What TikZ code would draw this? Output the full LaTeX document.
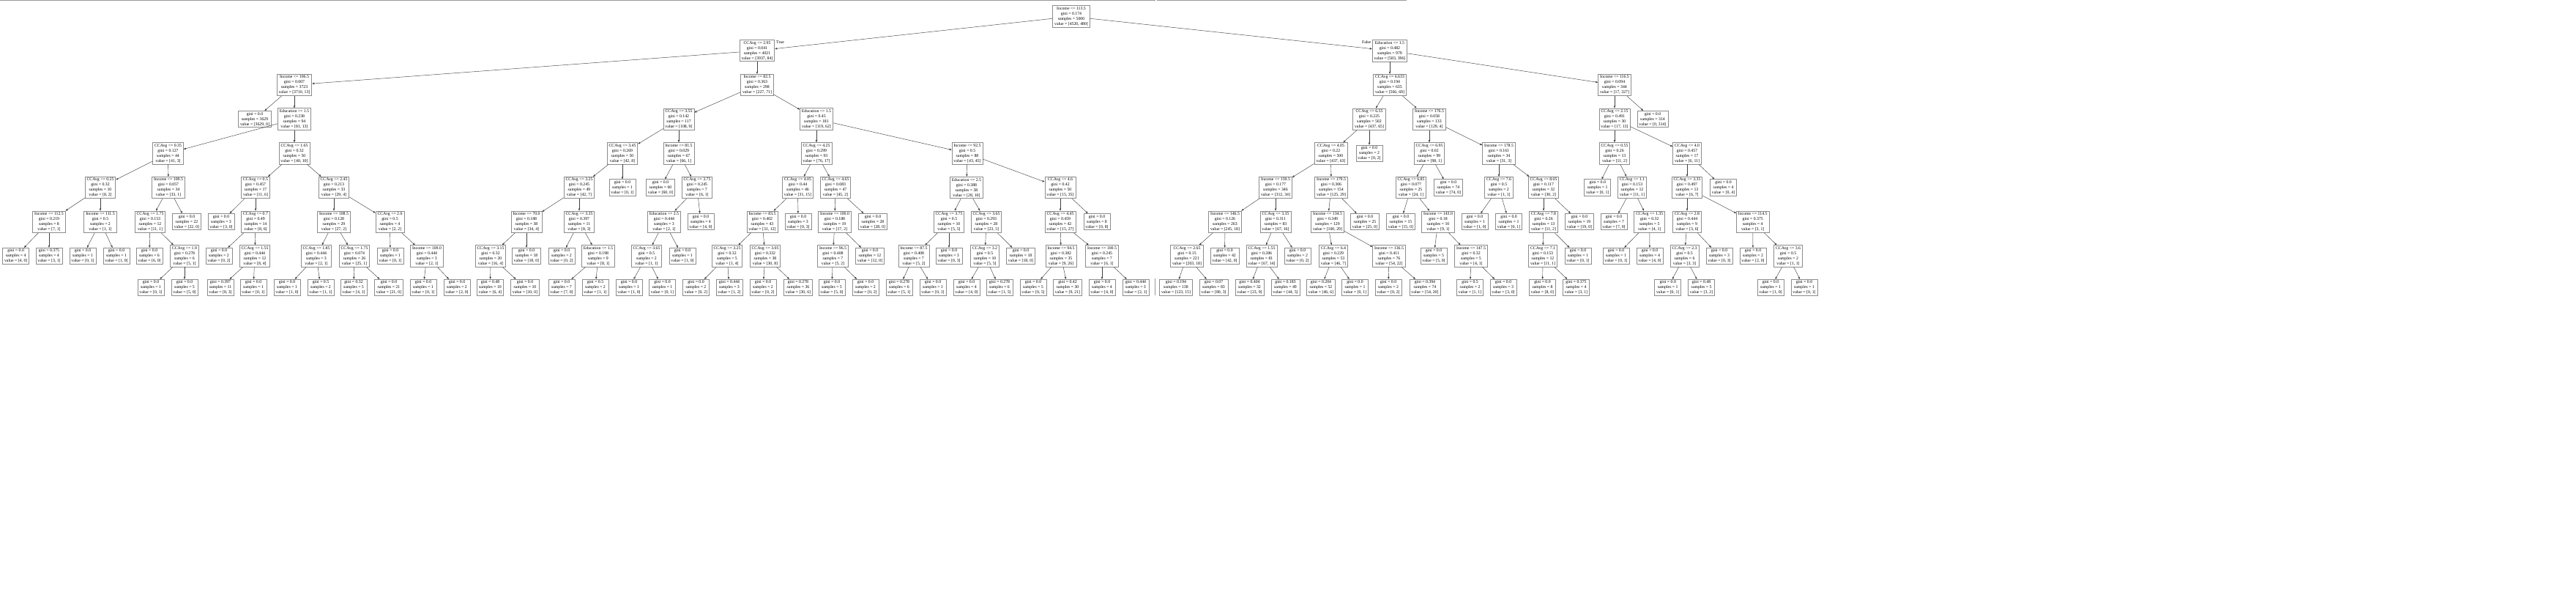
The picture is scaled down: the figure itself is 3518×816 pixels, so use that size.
\documentclass[tikz,border=0pt]{standalone}
\usepackage{fontspec}
\setmainfont{Liberation Serif}
\usetikzlibrary{arrows.meta}

\begin{document}
\begin{tikzpicture}[x=1pt, y=-1pt,
  box/.style={draw=black!45, line width=0.8pt, align=center, inner xsep=2.4pt, inner ysep=1.8pt, font=\fontsize{5.8}{7}\selectfont},
  edge/.style={-{Triangle[length=3pt,width=2.4pt]}, draw=black!75, line width=0.45pt},
  tag/.style={inner sep=0pt, font=\fontsize{5.8}{7}\selectfont},
  seam/.style={draw=black!40, line width=1.3pt}]
\useasboundingbox (0, 0) rectangle (3518, 816);

\draw[seam] (0, 0.65) -- (1578, 0.65);
\draw[seam] (1580, 0.65) -- (1921, 0.65);
\draw[draw=black!40, line width=0.6pt] (1577, 380) -- (1577, 403);

% level 0
\node[box] (n0) at (1463, 22.5) {Income <= 113.5\\gini = 0.174\\samples = 5000\\value = [4520, 480]};
% level 1
\node[box] (n1) at (1034, 69.2) {CCAvg <= 2.95\\gini = 0.041\\samples = 4021\\value = [3937, 84]};
\node[box] (n2) at (1898, 69.2) {Education <= 1.5\\gini = 0.482\\samples = 979\\value = [583, 396]};
% level 2
\node[box] (n3) at (402, 115.9) {Income <= 106.5\\gini = 0.007\\samples = 3723\\value = [3710, 13]};
\node[box] (n4) at (1034, 115.9) {Income <= 82.5\\gini = 0.363\\samples = 298\\value = [227, 71]};
\node[box] (n5) at (1898, 115.9) {CCAvg <= 6.633\\gini = 0.194\\samples = 635\\value = [566, 69]};
\node[box] (n6) at (2205, 115.9) {Income <= 116.5\\gini = 0.094\\samples = 344\\value = [17, 327]};
% level 3
\node[box] (n7) at (348, 162.6) {gini = 0.0\\samples = 3629\\value = [3629, 0]};
\node[box] (n8) at (402, 162.6) {Education <= 1.5\\gini = 0.238\\samples = 94\\value = [81, 13]};
\node[box] (n9) at (927, 162.6) {CCAvg <= 3.55\\gini = 0.142\\samples = 117\\value = [108, 9]};
\node[box] (n10) at (1115, 162.6) {Education <= 1.5\\gini = 0.45\\samples = 181\\value = [119, 62]};
\node[box] (n11) at (1870, 162.6) {CCAvg <= 6.55\\gini = 0.225\\samples = 502\\value = [437, 65]};
\node[box] (n12) at (1952, 162.6) {Income <= 176.5\\gini = 0.058\\samples = 133\\value = [129, 4]};
\node[box] (n13) at (2205, 162.6) {CCAvg <= 2.15\\gini = 0.491\\samples = 30\\value = [17, 13]};
\node[box] (n14) at (2257, 162.6) {gini = 0.0\\samples = 314\\value = [0, 314]};
% level 4
\node[box] (n15) at (229.5, 209.3) {CCAvg <= 0.35\\gini = 0.127\\samples = 44\\value = [41, 3]};
\node[box] (n16) at (402, 209.3) {CCAvg <= 1.65\\gini = 0.32\\samples = 50\\value = [40, 10]};
\node[box] (n17) at (850, 209.3) {CCAvg <= 3.45\\gini = 0.269\\samples = 50\\value = [42, 8]};
\node[box] (n18) at (927, 209.3) {Income <= 81.5\\gini = 0.029\\samples = 67\\value = [66, 1]};
\node[box] (n19) at (1115, 209.3) {CCAvg <= 4.25\\gini = 0.299\\samples = 93\\value = [76, 17]};
\node[box] (n20) at (1321, 209.3) {Income <= 92.5\\gini = 0.5\\samples = 88\\value = [43, 45]};
\node[box] (n21) at (1817.5, 209.3) {CCAvg <= 4.05\\gini = 0.22\\samples = 500\\value = [437, 63]};
\node[box] (n22) at (1870, 209.3) {gini = 0.0\\samples = 2\\value = [0, 2]};
\node[box] (n23) at (1952, 209.3) {CCAvg <= 6.95\\gini = 0.02\\samples = 99\\value = [98, 1]};
\node[box] (n24) at (2047, 209.3) {Income <= 178.5\\gini = 0.161\\samples = 34\\value = [31, 3]};
\node[box] (n25) at (2205, 209.3) {CCAvg <= 0.55\\gini = 0.26\\samples = 13\\value = [11, 2]};
\node[box] (n26) at (2304, 209.3) {CCAvg <= 4.0\\gini = 0.457\\samples = 17\\value = [6, 11]};
% level 5
\node[box] (n27) at (137, 256) {CCAvg <= 0.25\\gini = 0.32\\samples = 10\\value = [8, 2]};
\node[box] (n28) at (230, 256) {Income <= 109.5\\gini = 0.057\\samples = 34\\value = [33, 1]};
\node[box] (n29) at (349, 256) {CCAvg <= 0.5\\gini = 0.457\\samples = 17\\value = [11, 6]};
\node[box] (n30) at (456, 256) {CCAvg <= 2.45\\gini = 0.213\\samples = 33\\value = [29, 4]};
\node[box] (n31) at (791, 256) {CCAvg <= 3.25\\gini = 0.245\\samples = 49\\value = [42, 7]};
\node[box] (n32) at (850, 256) {gini = 0.0\\samples = 1\\value = [0, 1]};
\node[box] (n33) at (902, 256) {gini = 0.0\\samples = 60\\value = [60, 0]};
\node[box] (n34) at (952, 256) {CCAvg <= 3.75\\gini = 0.245\\samples = 7\\value = [6, 1]};
\node[box] (n35) at (1089.5, 256) {CCAvg <= 4.05\\gini = 0.44\\samples = 46\\value = [31, 15]};
\node[box] (n36) at (1141, 256) {CCAvg <= 4.65\\gini = 0.083\\samples = 47\\value = [45, 2]};
\node[box] (n37) at (1320, 256) {Education <= 2.5\\gini = 0.388\\samples = 38\\value = [28, 10]};
\node[box] (n38) at (1448, 256) {CCAvg <= 4.6\\gini = 0.42\\samples = 50\\value = [15, 35]};
\node[box] (n39) at (1742, 256) {Income <= 159.5\\gini = 0.177\\samples = 346\\value = [312, 34]};
\node[box] (n40) at (1818, 256) {Income <= 179.5\\gini = 0.306\\samples = 154\\value = [125, 29]};
\node[box] (n41) at (1927, 256) {CCAvg <= 6.85\\gini = 0.077\\samples = 25\\value = [24, 1]};
\node[box] (n42) at (1978, 256) {gini = 0.0\\samples = 74\\value = [74, 0]};
\node[box] (n43) at (2047, 256) {CCAvg <= 7.6\\gini = 0.5\\samples = 2\\value = [1, 1]};
\node[box] (n44) at (2108, 256) {CCAvg <= 8.05\\gini = 0.117\\samples = 32\\value = [30, 2]};
\node[box] (n45) at (2181.7, 256) {gini = 0.0\\samples = 1\\value = [0, 1]};
\node[box] (n46) at (2229, 256) {CCAvg <= 1.1\\gini = 0.153\\samples = 12\\value = [11, 1]};
\node[box] (n47) at (2304, 256) {CCAvg <= 3.35\\gini = 0.497\\samples = 13\\value = [6, 7]};
\node[box] (n48) at (2353.6, 256) {gini = 0.0\\samples = 4\\value = [0, 4]};
% level 6
\node[box] (n49) at (67, 302.7) {Income <= 112.5\\gini = 0.219\\samples = 8\\value = [7, 1]};
\node[box] (n50) at (137, 302.7) {Income <= 111.5\\gini = 0.5\\samples = 2\\value = [1, 1]};
\node[box] (n51) at (205, 302.7) {CCAvg <= 1.75\\gini = 0.153\\samples = 12\\value = [11, 1]};
\node[box] (n52) at (255, 302.7) {gini = 0.0\\samples = 22\\value = [22, 0]};
\node[box] (n53) at (302, 302.7) {gini = 0.0\\samples = 3\\value = [3, 0]};
\node[box] (n54) at (349, 302.7) {CCAvg <= 0.7\\gini = 0.49\\samples = 14\\value = [8, 6]};
\node[box] (n55) at (456, 302.7) {Income <= 108.5\\gini = 0.128\\samples = 29\\value = [27, 2]};
\node[box] (n56) at (532.5, 302.7) {CCAvg <= 2.6\\gini = 0.5\\samples = 4\\value = [2, 2]};
\node[box] (n57) at (719, 302.7) {Income <= 70.0\\gini = 0.188\\samples = 38\\value = [34, 4]};
\node[box] (n58) at (791, 302.7) {CCAvg <= 3.35\\gini = 0.397\\samples = 11\\value = [8, 3]};
\node[box] (n59) at (907, 302.7) {Education <= 2.5\\gini = 0.444\\samples = 3\\value = [2, 1]};
\node[box] (n60) at (957, 302.7) {gini = 0.0\\samples = 4\\value = [4, 0]};
\node[box] (n61) at (1041, 302.7) {Income <= 83.5\\gini = 0.402\\samples = 43\\value = [31, 12]};
\node[box] (n62) at (1090, 302.7) {gini = 0.0\\samples = 3\\value = [0, 3]};
\node[box] (n63) at (1140, 302.7) {Income <= 100.0\\gini = 0.188\\samples = 19\\value = [17, 2]};
\node[box] (n64) at (1192, 302.7) {gini = 0.0\\samples = 28\\value = [28, 0]};
\node[box] (n65) at (1296, 302.7) {CCAvg <= 3.75\\gini = 0.5\\samples = 10\\value = [5, 5]};
\node[box] (n66) at (1347, 302.7) {CCAvg <= 3.65\\gini = 0.293\\samples = 28\\value = [23, 5]};
\node[box] (n67) at (1448, 302.7) {CCAvg <= 4.45\\gini = 0.459\\samples = 42\\value = [15, 27]};
\node[box] (n68) at (1498, 302.7) {gini = 0.0\\samples = 8\\value = [0, 8]};
\node[box] (n69) at (1673, 302.7) {Income <= 146.5\\gini = 0.126\\samples = 263\\value = [245, 18]};
\node[box] (n70) at (1742, 302.7) {CCAvg <= 3.35\\gini = 0.311\\samples = 83\\value = [67, 16]};
\node[box] (n71) at (1813, 302.7) {Income <= 134.5\\gini = 0.349\\samples = 129\\value = [100, 29]};
\node[box] (n72) at (1864, 302.7) {gini = 0.0\\samples = 25\\value = [25, 0]};
\node[box] (n73) at (1913, 302.7) {gini = 0.0\\samples = 15\\value = [15, 0]};
\node[box] (n74) at (1964, 302.7) {Income <= 143.0\\gini = 0.18\\samples = 10\\value = [9, 1]};
\node[box] (n75) at (2014, 302.7) {gini = 0.0\\samples = 1\\value = [1, 0]};
\node[box] (n76) at (2060.6, 302.7) {gini = 0.0\\samples = 1\\value = [0, 1]};
\node[box] (n77) at (2108, 302.7) {CCAvg <= 7.8\\gini = 0.26\\samples = 13\\value = [11, 2]};
\node[box] (n78) at (2157, 302.7) {gini = 0.0\\samples = 19\\value = [19, 0]};
\node[box] (n79) at (2204, 302.7) {gini = 0.0\\samples = 7\\value = [7, 0]};
\node[box] (n80) at (2252.7, 302.7) {CCAvg <= 1.35\\gini = 0.32\\samples = 5\\value = [4, 1]};
\node[box] (n81) at (2304, 302.7) {CCAvg <= 2.8\\gini = 0.444\\samples = 9\\value = [3, 6]};
\node[box] (n82) at (2393.7, 302.7) {Income <= 114.5\\gini = 0.375\\samples = 4\\value = [3, 1]};
% level 7
\node[box] (n83) at (21.7, 349.4) {gini = 0.0\\samples = 4\\value = [4, 0]};
\node[box] (n84) at (67, 349.4) {gini = 0.375\\samples = 4\\value = [3, 1]};
\node[box] (n85) at (113, 349.4) {gini = 0.0\\samples = 1\\value = [0, 1]};
\node[box] (n86) at (159, 349.4) {gini = 0.0\\samples = 1\\value = [1, 0]};
\node[box] (n87) at (204, 349.4) {gini = 0.0\\samples = 6\\value = [6, 0]};
\node[box] (n88) at (252, 349.4) {CCAvg <= 1.9\\gini = 0.278\\samples = 6\\value = [5, 1]};
\node[box] (n89) at (299, 349.4) {gini = 0.0\\samples = 2\\value = [0, 2]};
\node[box] (n90) at (348, 349.4) {CCAvg <= 1.55\\gini = 0.444\\samples = 12\\value = [8, 4]};
\node[box] (n91) at (432, 349.4) {CCAvg <= 1.85\\gini = 0.444\\samples = 3\\value = [2, 1]};
\node[box] (n92) at (484, 349.4) {CCAvg <= 1.75\\gini = 0.074\\samples = 26\\value = [25, 1]};
\node[box] (n93) at (533, 349.4) {gini = 0.0\\samples = 1\\value = [0, 1]};
\node[box] (n94) at (583, 349.4) {Income <= 109.0\\gini = 0.444\\samples = 3\\value = [2, 1]};
\node[box] (n95) at (670, 349.4) {CCAvg <= 3.15\\gini = 0.32\\samples = 20\\value = [16, 4]};
\node[box] (n96) at (719, 349.4) {gini = 0.0\\samples = 18\\value = [18, 0]};
\node[box] (n97) at (767, 349.4) {gini = 0.0\\samples = 2\\value = [0, 2]};
\node[box] (n98) at (817, 349.4) {Education <= 1.5\\gini = 0.198\\samples = 9\\value = [8, 1]};
\node[box] (n99) at (883, 349.4) {CCAvg <= 3.65\\gini = 0.5\\samples = 2\\value = [1, 1]};
\node[box] (n100) at (932, 349.4) {gini = 0.0\\samples = 1\\value = [1, 0]};
\node[box] (n101) at (993, 349.4) {CCAvg <= 3.25\\gini = 0.32\\samples = 5\\value = [1, 4]};
\node[box] (n102) at (1045, 349.4) {CCAvg <= 3.05\\gini = 0.332\\samples = 38\\value = [30, 8]};
\node[box] (n103) at (1137.5, 349.4) {Income <= 96.5\\gini = 0.408\\samples = 7\\value = [5, 2]};
\node[box] (n104) at (1188, 349.4) {gini = 0.0\\samples = 12\\value = [12, 0]};
\node[box] (n105) at (1248, 349.4) {Income <= 87.5\\gini = 0.408\\samples = 7\\value = [5, 2]};
\node[box] (n106) at (1296, 349.4) {gini = 0.0\\samples = 3\\value = [0, 3]};
\node[box] (n107) at (1345, 349.4) {CCAvg <= 3.2\\gini = 0.5\\samples = 10\\value = [5, 5]};
\node[box] (n108) at (1394, 349.4) {gini = 0.0\\samples = 18\\value = [18, 0]};
\node[box] (n109) at (1449, 349.4) {Income <= 94.5\\gini = 0.382\\samples = 35\\value = [9, 26]};
\node[box] (n110) at (1505, 349.4) {Income <= 100.5\\gini = 0.245\\samples = 7\\value = [6, 1]};
\node[box] (n111) at (1621, 349.4) {CCAvg <= 2.65\\gini = 0.15\\samples = 221\\value = [203, 18]};
\node[box] (n112) at (1672.5, 349.4) {gini = 0.0\\samples = 42\\value = [42, 0]};
\node[box] (n113) at (1723, 349.4) {CCAvg <= 1.55\\gini = 0.286\\samples = 81\\value = [67, 14]};
\node[box] (n114) at (1772, 349.4) {gini = 0.0\\samples = 2\\value = [0, 2]};
\node[box] (n115) at (1821, 349.4) {CCAvg <= 6.4\\gini = 0.229\\samples = 53\\value = [46, 7]};
\node[box] (n116) at (1897, 349.4) {Income <= 136.5\\gini = 0.411\\samples = 76\\value = [54, 22]};
\node[box] (n117) at (1958, 349.4) {gini = 0.0\\samples = 5\\value = [5, 0]};
\node[box] (n118) at (2009, 349.4) {Income <= 147.5\\gini = 0.32\\samples = 5\\value = [4, 1]};
\node[box] (n119) at (2107, 349.4) {CCAvg <= 7.1\\gini = 0.153\\samples = 12\\value = [11, 1]};
\node[box] (n120) at (2155, 349.4) {gini = 0.0\\samples = 1\\value = [0, 1]};
\node[box] (n121) at (2207, 349.4) {gini = 0.0\\samples = 1\\value = [0, 1]};
\node[box] (n122) at (2253, 349.4) {gini = 0.0\\samples = 4\\value = [4, 0]};
\node[box] (n123) at (2300.5, 349.4) {CCAvg <= 2.3\\gini = 0.5\\samples = 6\\value = [3, 3]};
\node[box] (n124) at (2348, 349.4) {gini = 0.0\\samples = 3\\value = [0, 3]};
\node[box] (n125) at (2394, 349.4) {gini = 0.0\\samples = 2\\value = [2, 0]};
\node[box] (n126) at (2442, 349.4) {CCAvg <= 3.6\\gini = 0.5\\samples = 2\\value = [1, 1]};
% level 8
\node[box] (n127) at (206, 392.5) {gini = 0.0\\samples = 1\\value = [0, 1]};
\node[box] (n128) at (252, 392.5) {gini = 0.0\\samples = 5\\value = [5, 0]};
\node[box] (n129) at (301, 392.5) {gini = 0.397\\samples = 11\\value = [8, 3]};
\node[box] (n130) at (346, 392.5) {gini = 0.0\\samples = 1\\value = [0, 1]};
\node[box] (n131) at (392, 392.5) {gini = 0.0\\samples = 1\\value = [1, 0]};
\node[box] (n132) at (438, 392.5) {gini = 0.5\\samples = 2\\value = [1, 1]};
\node[box] (n133) at (483, 392.5) {gini = 0.32\\samples = 5\\value = [4, 1]};
\node[box] (n134) at (531, 392.5) {gini = 0.0\\samples = 21\\value = [21, 0]};
\node[box] (n135) at (578, 392.5) {gini = 0.0\\samples = 1\\value = [0, 1]};
\node[box] (n136) at (624, 392.5) {gini = 0.0\\samples = 2\\value = [2, 0]};
\node[box] (n137) at (669.5, 392.5) {gini = 0.48\\samples = 10\\value = [6, 4]};
\node[box] (n138) at (717, 392.5) {gini = 0.0\\samples = 10\\value = [10, 0]};
\node[box] (n139) at (767, 392.5) {gini = 0.0\\samples = 7\\value = [7, 0]};
\node[box] (n140) at (813, 392.5) {gini = 0.5\\samples = 2\\value = [1, 1]};
\node[box] (n141) at (859, 392.5) {gini = 0.0\\samples = 1\\value = [1, 0]};
\node[box] (n142) at (904.5, 392.5) {gini = 0.0\\samples = 1\\value = [0, 1]};
\node[box] (n143) at (950.5, 392.5) {gini = 0.0\\samples = 2\\value = [0, 2]};
\node[box] (n144) at (996, 392.5) {gini = 0.444\\samples = 3\\value = [1, 2]};
\node[box] (n145) at (1042, 392.5) {gini = 0.0\\samples = 2\\value = [0, 2]};
\node[box] (n146) at (1090, 392.5) {gini = 0.278\\samples = 36\\value = [30, 6]};
\node[box] (n147) at (1136, 392.5) {gini = 0.0\\samples = 5\\value = [5, 0]};
\node[box] (n148) at (1182, 392.5) {gini = 0.0\\samples = 2\\value = [0, 2]};
\node[box] (n149) at (1228, 392.5) {gini = 0.278\\samples = 6\\value = [5, 1]};
\node[box] (n150) at (1274, 392.5) {gini = 0.0\\samples = 1\\value = [0, 1]};
\node[box] (n151) at (1320, 392.5) {gini = 0.0\\samples = 4\\value = [4, 0]};
\node[box] (n152) at (1365, 392.5) {gini = 0.278\\samples = 6\\value = [1, 5]};
\node[box] (n153) at (1411, 392.5) {gini = 0.0\\samples = 5\\value = [0, 5]};
\node[box] (n154) at (1458, 392.5) {gini = 0.42\\samples = 30\\value = [9, 21]};
\node[box] (n155) at (1505, 392.5) {gini = 0.0\\samples = 4\\value = [4, 0]};
\node[box] (n156) at (1551, 392.5) {gini = 0.444\\samples = 3\\value = [2, 1]};
\node[box] (n157) at (1606, 392.5) {gini = 0.194\\samples = 138\\value = [123, 15]};
\node[box] (n158) at (1657.5, 392.5) {gini = 0.07\\samples = 83\\value = [80, 3]};
\node[box] (n159) at (1706.5, 392.5) {gini = 0.404\\samples = 32\\value = [23, 9]};
\node[box] (n160) at (1755.5, 392.5) {gini = 0.183\\samples = 49\\value = [44, 5]};
\node[box] (n161) at (1804, 392.5) {gini = 0.204\\samples = 52\\value = [46, 6]};
\node[box] (n162) at (1850.5, 392.5) {gini = 0.0\\samples = 1\\value = [0, 1]};
\node[box] (n163) at (1896, 392.5) {gini = 0.0\\samples = 2\\value = [0, 2]};
\node[box] (n164) at (1946, 392.5) {gini = 0.394\\samples = 74\\value = [54, 20]};
\node[box] (n165) at (2007.6, 392.5) {gini = 0.5\\samples = 2\\value = [1, 1]};
\node[box] (n166) at (2053, 392.5) {gini = 0.0\\samples = 3\\value = [3, 0]};
\node[box] (n167) at (2106.5, 392.5) {gini = 0.0\\samples = 8\\value = [8, 0]};
\node[box] (n168) at (2152.5, 392.5) {gini = 0.375\\samples = 4\\value = [3, 1]};
\node[box] (n169) at (2277.7, 392.5) {gini = 0.0\\samples = 1\\value = [0, 1]};
\node[box] (n170) at (2323.6, 392.5) {gini = 0.48\\samples = 5\\value = [3, 2]};
\node[box] (n171) at (2418, 392.5) {gini = 0.0\\samples = 1\\value = [1, 0]};
\node[box] (n172) at (2464, 392.5) {gini = 0.0\\samples = 1\\value = [0, 1]};

\node[tag, anchor=west] (ltrue) at (1060, 57.5) {True};
\node[tag, anchor=east] (lfalse) at (1872.5, 57.5) {False};

\draw[edge] (n0) -- (n1);
\draw[edge] (n0) -- (n2);
\draw[edge] (n1) -- (n3);
\draw[edge] (n1) -- (n4);
\draw[edge] (n2) -- (n5);
\draw[edge] (n2) -- (n6);
\draw[edge] (n3) -- (n7);
\draw[edge] (n3) -- (n8);
\draw[edge] (n4) -- (n9);
\draw[edge] (n4) -- (n10);
\draw[edge] (n5) -- (n11);
\draw[edge] (n5) -- (n12);
\draw[edge] (n6) -- (n13);
\draw[edge] (n6) -- (n14);
\draw[edge] (n8) -- (n15);
\draw[edge] (n8) -- (n16);
\draw[edge] (n9) -- (n17);
\draw[edge] (n9) -- (n18);
\draw[edge] (n10) -- (n19);
\draw[edge] (n10) -- (n20);
\draw[edge] (n11) -- (n21);
\draw[edge] (n11) -- (n22);
\draw[edge] (n12) -- (n23);
\draw[edge] (n12) -- (n24);
\draw[edge] (n13) -- (n25);
\draw[edge] (n13) -- (n26);
\draw[edge] (n15) -- (n27);
\draw[edge] (n15) -- (n28);
\draw[edge] (n16) -- (n29);
\draw[edge] (n16) -- (n30);
\draw[edge] (n17) -- (n31);
\draw[edge] (n17) -- (n32);
\draw[edge] (n18) -- (n33);
\draw[edge] (n18) -- (n34);
\draw[edge] (n19) -- (n35);
\draw[edge] (n19) -- (n36);
\draw[edge] (n20) -- (n37);
\draw[edge] (n20) -- (n38);
\draw[edge] (n21) -- (n39);
\draw[edge] (n21) -- (n40);
\draw[edge] (n23) -- (n41);
\draw[edge] (n23) -- (n42);
\draw[edge] (n24) -- (n43);
\draw[edge] (n24) -- (n44);
\draw[edge] (n25) -- (n45);
\draw[edge] (n25) -- (n46);
\draw[edge] (n26) -- (n47);
\draw[edge] (n26) -- (n48);
\draw[edge] (n27) -- (n49);
\draw[edge] (n27) -- (n50);
\draw[edge] (n28) -- (n51);
\draw[edge] (n28) -- (n52);
\draw[edge] (n29) -- (n53);
\draw[edge] (n29) -- (n54);
\draw[edge] (n30) -- (n55);
\draw[edge] (n30) -- (n56);
\draw[edge] (n31) -- (n57);
\draw[edge] (n31) -- (n58);
\draw[edge] (n34) -- (n59);
\draw[edge] (n34) -- (n60);
\draw[edge] (n35) -- (n61);
\draw[edge] (n35) -- (n62);
\draw[edge] (n36) -- (n63);
\draw[edge] (n36) -- (n64);
\draw[edge] (n37) -- (n65);
\draw[edge] (n37) -- (n66);
\draw[edge] (n38) -- (n67);
\draw[edge] (n38) -- (n68);
\draw[edge] (n39) -- (n69);
\draw[edge] (n39) -- (n70);
\draw[edge] (n40) -- (n71);
\draw[edge] (n40) -- (n72);
\draw[edge] (n41) -- (n73);
\draw[edge] (n41) -- (n74);
\draw[edge] (n43) -- (n75);
\draw[edge] (n43) -- (n76);
\draw[edge] (n44) -- (n77);
\draw[edge] (n44) -- (n78);
\draw[edge] (n46) -- (n79);
\draw[edge] (n46) -- (n80);
\draw[edge] (n47) -- (n81);
\draw[edge] (n47) -- (n82);
\draw[edge] (n49) -- (n83);
\draw[edge] (n49) -- (n84);
\draw[edge] (n50) -- (n85);
\draw[edge] (n50) -- (n86);
\draw[edge] (n51) -- (n87);
\draw[edge] (n51) -- (n88);
\draw[edge] (n54) -- (n89);
\draw[edge] (n54) -- (n90);
\draw[edge] (n55) -- (n91);
\draw[edge] (n55) -- (n92);
\draw[edge] (n56) -- (n93);
\draw[edge] (n56) -- (n94);
\draw[edge] (n57) -- (n95);
\draw[edge] (n57) -- (n96);
\draw[edge] (n58) -- (n97);
\draw[edge] (n58) -- (n98);
\draw[edge] (n59) -- (n99);
\draw[edge] (n59) -- (n100);
\draw[edge] (n61) -- (n101);
\draw[edge] (n61) -- (n102);
\draw[edge] (n63) -- (n103);
\draw[edge] (n63) -- (n104);
\draw[edge] (n65) -- (n105);
\draw[edge] (n65) -- (n106);
\draw[edge] (n66) -- (n107);
\draw[edge] (n66) -- (n108);
\draw[edge] (n67) -- (n109);
\draw[edge] (n67) -- (n110);
\draw[edge] (n69) -- (n111);
\draw[edge] (n69) -- (n112);
\draw[edge] (n70) -- (n113);
\draw[edge] (n70) -- (n114);
\draw[edge] (n71) -- (n115);
\draw[edge] (n71) -- (n116);
\draw[edge] (n74) -- (n117);
\draw[edge] (n74) -- (n118);
\draw[edge] (n77) -- (n119);
\draw[edge] (n77) -- (n120);
\draw[edge] (n80) -- (n121);
\draw[edge] (n80) -- (n122);
\draw[edge] (n81) -- (n123);
\draw[edge] (n81) -- (n124);
\draw[edge] (n82) -- (n125);
\draw[edge] (n82) -- (n126);
\draw[edge] (n88) -- (n127);
\draw[edge] (n88) -- (n128);
\draw[edge] (n90) -- (n129);
\draw[edge] (n90) -- (n130);
\draw[edge] (n91) -- (n131);
\draw[edge] (n91) -- (n132);
\draw[edge] (n92) -- (n133);
\draw[edge] (n92) -- (n134);
\draw[edge] (n94) -- (n135);
\draw[edge] (n94) -- (n136);
\draw[edge] (n95) -- (n137);
\draw[edge] (n95) -- (n138);
\draw[edge] (n98) -- (n139);
\draw[edge] (n98) -- (n140);
\draw[edge] (n99) -- (n141);
\draw[edge] (n99) -- (n142);
\draw[edge] (n101) -- (n143);
\draw[edge] (n101) -- (n144);
\draw[edge] (n102) -- (n145);
\draw[edge] (n102) -- (n146);
\draw[edge] (n103) -- (n147);
\draw[edge] (n103) -- (n148);
\draw[edge] (n105) -- (n149);
\draw[edge] (n105) -- (n150);
\draw[edge] (n107) -- (n151);
\draw[edge] (n107) -- (n152);
\draw[edge] (n109) -- (n153);
\draw[edge] (n109) -- (n154);
\draw[edge] (n110) -- (n155);
\draw[edge] (n110) -- (n156);
\draw[edge] (n111) -- (n157);
\draw[edge] (n111) -- (n158);
\draw[edge] (n113) -- (n159);
\draw[edge] (n113) -- (n160);
\draw[edge] (n115) -- (n161);
\draw[edge] (n115) -- (n162);
\draw[edge] (n116) -- (n163);
\draw[edge] (n116) -- (n164);
\draw[edge] (n118) -- (n165);
\draw[edge] (n118) -- (n166);
\draw[edge] (n119) -- (n167);
\draw[edge] (n119) -- (n168);
\draw[edge] (n123) -- (n169);
\draw[edge] (n123) -- (n170);
\draw[edge] (n126) -- (n171);
\draw[edge] (n126) -- (n172);
\end{tikzpicture}
\end{document}
